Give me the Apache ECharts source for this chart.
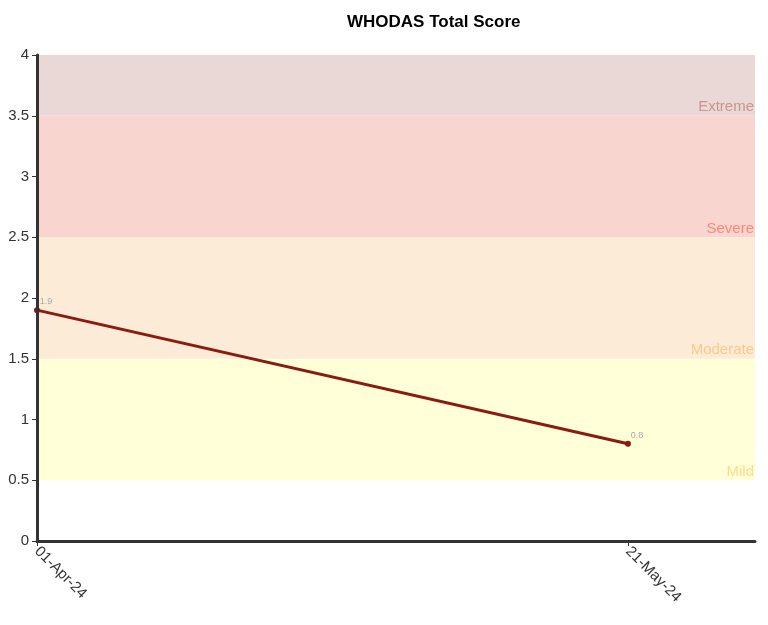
<!DOCTYPE html>
<html lang="en">
<head>
    <meta charset="UTF-8">
    <title>WHODAS Total Score</title>
    <script src="https://cdn.jsdelivr.net/npm/echarts/dist/echarts.min.js"></script>
    <style>
        html, body { margin: 0; padding: 0; background: #fff; }
        #chart { width: 768px; height: 625px; }
    </style>
</head>
<body>
<div id="chart"></div>
<script>
    // chart data
    var dates = ['2024-04-01', '2024-05-21'];
    var scores = [1.9, 0.8];
    var bandNames = ['Mild', 'Moderate', 'Severe', 'Extreme'];
    var bandFrom = [0.5, 1.5, 2.5, 3.5];
    var bandTo = [1.5, 2.5, 3.5, 4];
    var bandFill = ['#ffffd8', '#fcecd7', '#f9d5d0', '#e9d8d6'];
    var bandText = ['#fddb8c', '#fdc88c', '#f7897a', '#c9958c'];
    var axisEnd = '2024-05-31T18';

    var months = ['Jan', 'Feb', 'Mar', 'Apr', 'May', 'Jun', 'Jul', 'Aug', 'Sep', 'Oct', 'Nov', 'Dec'];
    var DAY = 86400000;
    var start = Date.UTC(2024, 3, 1);
    function toDay(s) {
        var p = s.split('T');
        var d = p[0].split('-');
        var h = p[1] ? +p[1] : 0;
        return (Date.UTC(+d[0], +d[1] - 1, +d[2], h) - start) / DAY;
    }
    function fmtDay(v) {
        var d = new Date(start + v * DAY);
        return String(d.getUTCDate()).padStart(2, '0') + '-' + months[d.getUTCMonth()] + '-' + String(d.getUTCFullYear()).slice(2);
    }

    var days = dates.map(toDay);
    var points = days.map(function (d, i) { return [d, scores[i]]; });
    var xMax = toDay(axisEnd);

    var areas = bandNames.map(function (name, i) {
        return [
            { name: name, xAxis: 0, yAxis: bandFrom[i], itemStyle: { color: bandFill[i] },
              label: { show: true, color: bandText[i] } },
            { xAxis: xMax, yAxis: bandTo[i] }
        ];
    });

    var chart = echarts.init(document.getElementById('chart'));
    chart.setOption({
        animation: false,
        textStyle: { fontFamily: 'Liberation Sans, Arial, sans-serif' },
        title: {
            text: 'WHODAS Total Score',
            left: 342,
            top: 9,
            textStyle: { fontSize: 17, fontWeight: 'bold', color: '#000' }
        },
        grid: { left: 37, right: 13, top: 55, bottom: 84, containLabel: false },
        xAxis: {
            type: 'value',
            min: 0,
            max: xMax,
            z: 10,
            axisLine: { lineStyle: { color: '#333', width: 3 } },
            axisTick: { show: true, customValues: days, length: 5, lineStyle: { color: '#333' } },
            axisLabel: {
                customValues: days,
                formatter: fmtDay,
                rotate: -45,
                color: '#333',
                fontSize: 15,
                margin: 8
            },
            splitLine: { show: false }
        },
        yAxis: {
            type: 'value',
            min: 0,
            max: 4,
            interval: 0.5,
            z: 10,
            axisLine: { show: true, lineStyle: { color: '#333', width: 3 } },
            axisTick: { show: true, length: 5, lineStyle: { color: '#333' } },
            axisLabel: { color: '#333', fontSize: 15, margin: 8 },
            splitLine: { show: false }
        },
        series: [{
            type: 'line',
            data: points,
            symbol: 'circle',
            symbolSize: 6,
            lineStyle: { color: '#8b1a10', width: 3 },
            itemStyle: { color: '#8b1a10' },
            label: {
                show: true,
                position: 'top',
                offset: [9, 4],
                color: '#aaa',
                fontSize: 9,
                formatter: function (p) { return p.value[1]; }
            },
            markArea: {
                silent: true,
                label: { show: true, position: 'insideBottomRight', fontSize: 15, distance: 1 },
                data: areas
            },
            z: 5
        }]
    });
</script>
</body>
</html>
